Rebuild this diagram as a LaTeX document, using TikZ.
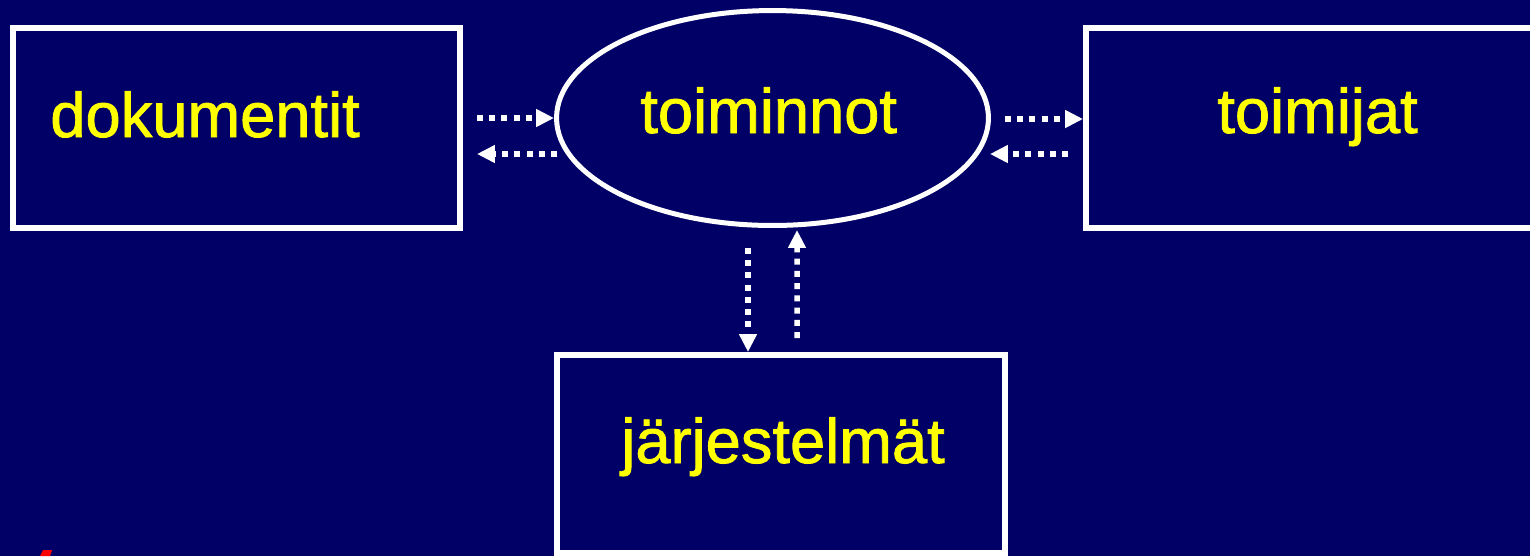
\documentclass[tikz,border=0pt]{standalone}
\usepackage{fontspec}
\setmainfont{Liberation Sans}
\newfontfamily\slidefont[FakeBold=1.3]{Liberation Sans}
\usepackage{tikz}
\usetikzlibrary{arrows.meta, shapes.geometric, calc}
\definecolor{navybg}{RGB}{0,0,102}
\definecolor{lblyellow}{RGB}{255,255,0}

\begin{document}
\begin{tikzpicture}[x=0.02cm, y=-0.02cm,
        box/.style={rectangle, draw=white, line width=0.12cm, inner sep=0pt},
        oval/.style={ellipse, draw=white, line width=0.1cm, inner sep=0pt},
        lbl/.style={text=lblyellow, inner sep=0pt, anchor=base west, font=\slidefont\fontsize{36}{43}\selectfont},
        flow/.style={draw=white, line width=0.11cm, dash pattern=on 0.12cm off 0.125cm, -{Triangle[length=0.36cm, width=0.34cm]}}]
            \useasboundingbox (0,0) rectangle (1530,556);
            \fill[navybg] (0,0) rectangle (1530,556);
            \fill[red] (40,556) -- (43,550) -- (52,550) -- (50,556) -- cycle;

            \node[box, minimum width=8.94cm, minimum height=4cm] at (236.5, 128)   (dok) {};
            \node[oval, minimum width=8.64cm, minimum height=4.3cm] at (772.5, 118)   (toim) {};
            \node[box, minimum width=9.48cm, minimum height=4cm] at (1323, 128)   (tja) {};
            \node[box, minimum width=8.96cm, minimum height=3.96cm] at (781, 454)   (jar) {};

            \node[lbl] at (50, 137)   (dokT) {dokumentit};
            \node[lbl] at (640, 133)   (toimT) {toiminnot};
            \node[lbl] at (1217, 133)   (tjaT) {toimijat};
            \node[lbl] at (621, 463)   (jarT) {järjestelmät};

            \draw [flow] ($(dok.east)+(14,-10)$) -- (toim.west);
            \draw [flow] ($(toim.west)+(3,36)$) -- ($(dok.east)+(14,26)$);
            \draw [flow] ($(toim.east)+(14,1)$) -- ($(tja.west)+(0,-9)$);
            \draw [flow] ($(tja.west)+(-15,26)$) -- ($(toim.east)+(-1,36)$);
            \draw [flow] ($(toim.south)+(-24.5,20)$) -- ($(jar.north)+(-33,0)$);
            \draw [flow] ($(jar.north)+(16,-14)$) -- ($(toim.south)+(24.5,2)$);
        \end{tikzpicture}
\end{document}
